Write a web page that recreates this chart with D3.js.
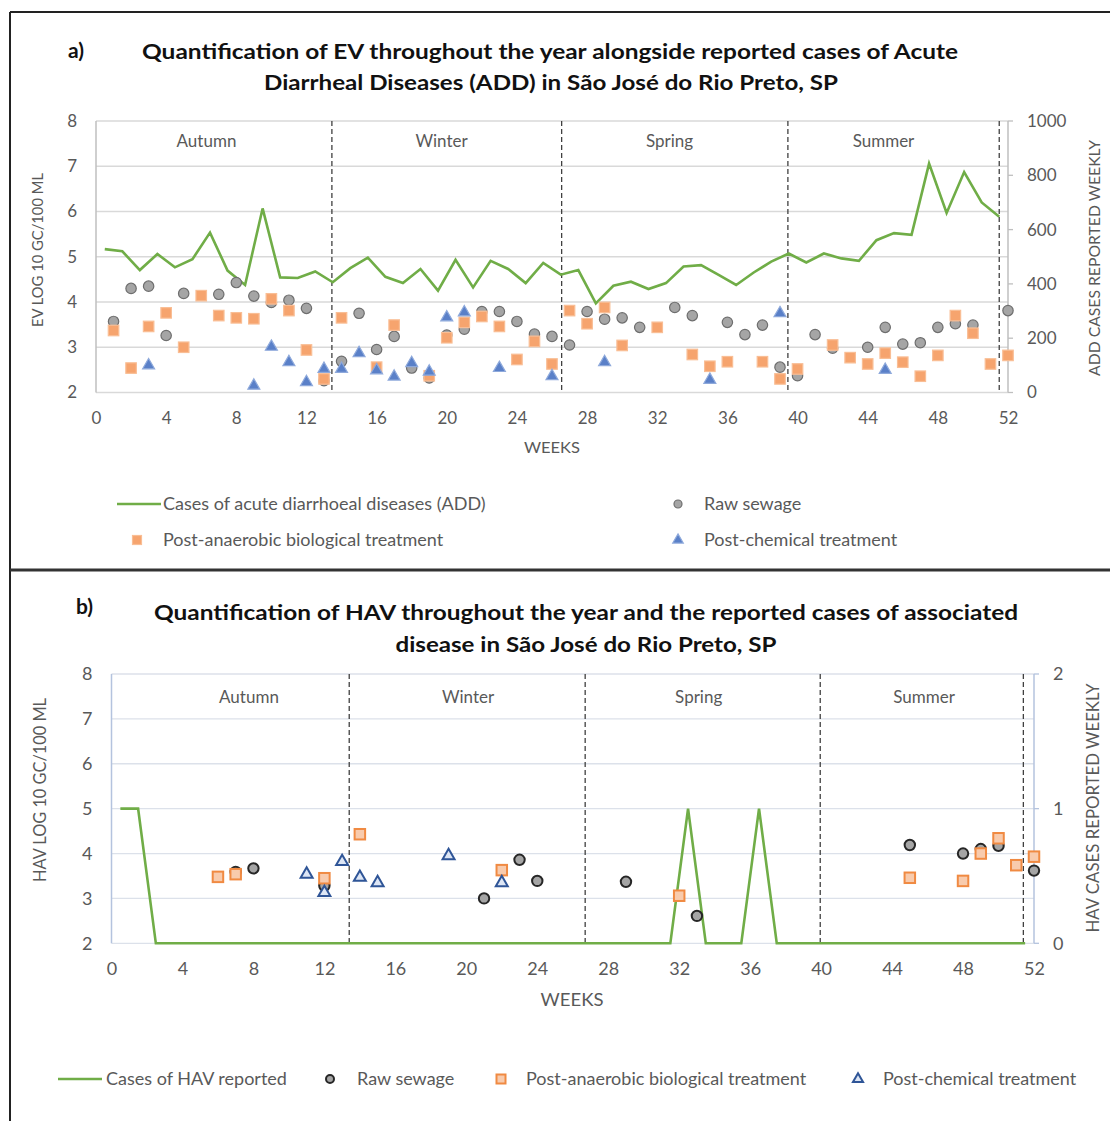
<!DOCTYPE html>
<html>
<head>
<meta charset="utf-8">
<script src="https://cdn.jsdelivr.net/npm/d3@7"></script>
<style>
  body { margin: 0; background: #fff; }
  svg { display: block; }
  text { font-family: Lato, "Open Sans", "DejaVu Sans", sans-serif; fill: #595959; }
</style>
</head>
<body>
<svg id="chart" width="1110" height="1121"></svg>
<script>
// ---- data: panel a (EV) ----
const addCases = [528, 520, 451, 510, 461, 491, 589, 449, 396, 678, 424, 422, 446, 406,
  458, 497, 426, 403, 455, 375, 489, 387, 485, 455, 403, 477, 434,
  451, 328, 393, 408, 381, 403, 464, 469, 433, 396, 442, 482, 512,
  479, 512, 494, 485, 561, 587, 581, 843, 661, 812, 700, 647];

const evRawWeeks = [1, 2, 3, 4, 5, 7, 8, 9, 10, 11, 12, 13, 14, 15, 16, 17, 18, 19, 20, 21, 22, 23, 24, 25, 26,
  27, 28, 29, 30, 31, 33, 34, 36, 37, 38, 39, 40, 41, 42, 44, 45, 46, 47, 48, 49, 50, 52];
const evRawValues = [3.57, 4.30, 4.35, 3.26, 4.19, 4.17, 4.43, 4.13, 3.99, 4.04, 3.86, 2.26, 2.69, 3.75, 2.95, 3.24, 2.54, 2.32, 3.27, 3.40, 3.79, 3.79, 3.57, 3.29, 3.24,
  3.05, 3.79, 3.62, 3.65, 3.44, 3.88, 3.70, 3.55, 3.28, 3.49, 2.56, 2.37, 3.28, 2.98, 3.00, 3.44, 3.07, 3.10, 3.44, 3.52, 3.49, 3.81];

const evAnaWeeks = [1, 2, 3, 4, 5, 6, 7, 8, 9, 10, 11, 12, 13, 14, 16, 17, 19, 20, 21, 22, 23, 24, 25, 26,
  27, 28, 29, 30, 32, 34, 35, 36, 38, 39, 40, 42, 43, 44, 45, 46, 47, 48, 49, 50, 51, 52];
const evAnaValues = [3.37, 2.54, 3.46, 3.76, 3.00, 4.14, 3.70, 3.65, 3.63, 4.07, 3.81, 2.94, 2.30, 3.65, 2.56, 3.49, 2.37, 3.21, 3.55, 3.68, 3.46, 2.73, 3.13, 2.63,
  3.81, 3.52, 3.88, 3.04, 3.44, 2.84, 2.58, 2.68, 2.68, 2.30, 2.52, 3.05, 2.77, 2.63, 2.87, 2.67, 2.36, 2.82, 3.70, 3.31, 2.63, 2.82];

const evChemWeeks = [3, 9, 10, 11, 12, 13, 14, 15, 16, 17, 18, 19, 20, 21, 23, 26, 29, 35, 39, 45];
const evChemValues = [2.60, 2.15, 3.01, 2.67, 2.23, 2.52, 2.52, 2.87, 2.49, 2.35, 2.65, 2.46, 3.66, 3.77, 2.54, 2.36, 2.67, 2.28, 3.75, 2.50];

// ---- data: panel b (HAV) ----
const havCases = [1, 1, 0, 0, 0, 0, 0, 0, 0, 0, 0, 0, 0, 0, 0, 0, 0, 0, 0, 0, 0, 0, 0, 0, 0, 0,
  0, 0, 0, 0, 0, 0, 1, 0, 0, 0, 1, 0, 0, 0, 0, 0, 0, 0, 0, 0, 0, 0, 0, 0, 0, 0];

const havRawWeeks = [7, 8, 12, 21, 23, 24, 29, 33, 45, 48, 49, 50, 52];
const havRawValues = [3.59, 3.67, 3.28, 3.00, 3.86, 3.39, 3.37, 2.61, 4.19, 4.00, 4.10, 4.17, 3.62];

const havAnaWeeks = [6, 7, 12, 14, 22, 32, 45, 48, 49, 50, 51, 52];
const havAnaValues = [3.48, 3.54, 3.45, 4.43, 3.63, 3.06, 3.46, 3.39, 4.00, 4.34, 3.74, 3.93];

const havChemWeeks = [11, 12, 13, 14, 15, 19, 22];
const havChemValues = [3.54, 3.13, 3.82, 3.47, 3.35, 3.95, 3.35];

const seasons = ["Autumn", "Winter", "Spring", "Summer"];
const weekTicks = [0, 4, 8, 12, 16, 20, 24, 28, 32, 36, 40, 44, 48, 52];
const logTicks = [2, 3, 4, 5, 6, 7, 8];

const svg = d3.select("#chart");

// frame
svg.append("line").attr("x1", 10).attr("x2", 1110).attr("y1", 12).attr("y2", 12).attr("stroke", "#222").attr("stroke-width", 2);
svg.append("line").attr("x1", 10).attr("x2", 10).attr("y1", 12).attr("y2", 1121).attr("stroke", "#222").attr("stroke-width", 2);
svg.append("line").attr("x1", 10).attr("x2", 1110).attr("y1", 570).attr("y2", 570).attr("stroke", "#333").attr("stroke-width", 3);

const zip = (w, v) => w.map((d, i) => ({week: d, value: v[i]}));
const fmt = d3.format("d");

function drawPanel(cfg) {
  const g = svg.append("g");
  const x = d3.scaleLinear().domain([0, 52]).range([cfg.left, cfg.right]);
  const y = d3.scaleLinear().domain([2, 8]).range([cfg.bottom, cfg.top]);
  const yR = d3.scaleLinear().domain([0, cfg.rightMax]).range([cfg.bottom, cfg.top]);

  // titles
  g.append("text").attr("x", cfg.tag[0]).attr("y", cfg.tag[1])
    .style("font-weight", "bold").style("font-size", "21px").style("fill", "#111").text(cfg.tagText);
  cfg.title.forEach(t => {
    g.append("text").attr("x", t.x).attr("y", t.y).attr("text-anchor", "middle")
      .attr("textLength", t.w).attr("lengthAdjust", "spacingAndGlyphs")
      .style("font-weight", "bold").style("font-size", "21px").style("fill", "#111").text(t.text);
  });

  // gridlines
  g.selectAll(".grid").data(logTicks).join("line")
    .attr("x1", cfg.left).attr("x2", cfg.right)
    .attr("y1", d => y(d)).attr("y2", d => y(d))
    .attr("stroke", cfg.gridColor).attr("stroke-width", 1.3);

  // axis lines
  g.append("line").attr("x1", cfg.left).attr("x2", cfg.left).attr("y1", cfg.top).attr("y2", cfg.bottom)
    .attr("stroke", cfg.axisColor).attr("stroke-width", 1.5);
  g.append("line").attr("x1", cfg.right).attr("x2", cfg.right).attr("y1", cfg.top).attr("y2", cfg.bottom)
    .attr("stroke", cfg.axisColor).attr("stroke-width", 1.5);
  g.selectAll(".rtick").data(cfg.rightTicks).join("line")
    .attr("x1", cfg.right).attr("x2", cfg.right + 5)
    .attr("y1", d => yR(d)).attr("y2", d => yR(d))
    .attr("stroke", cfg.axisColor).attr("stroke-width", 1.3);

  // axes labels
  const axL = g.append("g").attr("transform", `translate(${cfg.left},0)`)
    .call(d3.axisLeft(y).tickValues(logTicks).tickFormat(fmt).tickSize(0).tickPadding(cfg.pad));
  const axR = g.append("g").attr("transform", `translate(${cfg.right},0)`)
    .call(d3.axisRight(yR).tickValues(cfg.rightTicks).tickFormat(fmt).tickSize(0).tickPadding(cfg.pad));
  const axB = g.append("g").attr("transform", `translate(0,${cfg.bottom})`)
    .call(d3.axisBottom(x).tickValues(weekTicks).tickFormat(fmt).tickSize(0).tickPadding(cfg.pad));
  [axL, axR, axB].forEach(a => {
    a.select(".domain").remove();
    a.selectAll("text").style("font-family", "Lato, sans-serif").style("font-size", cfg.tickFont).style("fill", "#595959");
  });

  // axis titles
  g.append("text").attr("transform", `translate(${cfg.leftTitle[0]},${cfg.leftTitle[1]}) rotate(-90)`)
    .attr("text-anchor", "middle").attr("dy", "0.35em")
    .attr("textLength", cfg.leftTitle[2]).attr("lengthAdjust", "spacingAndGlyphs")
    .style("font-size", cfg.titleFont).text(cfg.leftTitleText);
  g.append("text").attr("transform", `translate(${cfg.rightTitle[0]},${cfg.rightTitle[1]}) rotate(-90)`)
    .attr("text-anchor", "middle").attr("dy", "0.35em")
    .attr("textLength", cfg.rightTitle[2]).attr("lengthAdjust", "spacingAndGlyphs")
    .style("font-size", cfg.titleFont).text(cfg.rightTitleText);
  g.append("text").attr("x", cfg.xTitle[0]).attr("y", cfg.xTitle[1])
    .attr("text-anchor", "middle").attr("dy", "0.35em")
    .attr("textLength", cfg.xTitle[2]).attr("lengthAdjust", "spacingAndGlyphs")
    .style("font-size", cfg.titleFont).text("WEEKS");

  // season breaks + labels
  g.selectAll(".brk").data(cfg.breaks).join("line")
    .attr("x1", d => x(d)).attr("x2", d => x(d))
    .attr("y1", cfg.top).attr("y2", cfg.bottom)
    .attr("stroke", "#404040").attr("stroke-width", 1.3).attr("stroke-dasharray", "5,3");
  g.selectAll(".season").data(seasons).join("text")
    .attr("x", (d, i) => x(cfg.seasonPos[i])).attr("y", cfg.seasonY)
    .attr("text-anchor", "middle").attr("dy", "0.35em")
    .style("font-size", cfg.seasonFont).text(d => d);

  // cases line
  const line = d3.line().x((d, i) => x(i + 0.5)).y(d => yR(d));
  g.append("path").datum(cfg.cases).attr("d", line)
    .attr("fill", "none").attr("stroke", "#70AD47").attr("stroke-width", 2.6).attr("stroke-linejoin", "miter");

  // points
  const ms = cfg.marker;
  g.selectAll(".raw").data(zip(cfg.raw[0], cfg.raw[1])).join("circle")
    .attr("cx", d => x(d.week)).attr("cy", d => y(d.value)).attr("r", ms.r)
    .attr("fill", ms.circleFill).attr("stroke", ms.circleStroke).attr("stroke-width", ms.sw);
  g.selectAll(".ana").data(zip(cfg.ana[0], cfg.ana[1])).join("rect")
    .attr("x", d => x(d.week) - ms.sq / 2).attr("y", d => y(d.value) - ms.sq / 2)
    .attr("width", ms.sq).attr("height", ms.sq)
    .attr("fill", ms.sqFill).attr("stroke", ms.sqStroke).attr("stroke-width", ms.sw);
  const tri = d3.symbol(d3.symbolTriangle, ms.tri);
  g.selectAll(".chem").data(zip(cfg.chem[0], cfg.chem[1])).join("path")
    .attr("d", tri).attr("transform", d => `translate(${x(d.week)},${y(d.value)})`)
    .attr("fill", ms.triFill).attr("stroke", ms.triStroke).attr("stroke-width", ms.sw);

  // legend
  const lg = g.append("g");
  cfg.legend.forEach(item => {
    const [mx, my] = item.m;
    if (item.type === "line") {
      lg.append("line").attr("x1", mx).attr("x2", mx + 44).attr("y1", my).attr("y2", my)
        .attr("stroke", "#70AD47").attr("stroke-width", 2.6);
    } else if (item.type === "circle") {
      lg.append("circle").attr("cx", mx).attr("cy", my).attr("r", ms.lr)
        .attr("fill", ms.circleFill).attr("stroke", ms.circleStroke).attr("stroke-width", ms.sw);
    } else if (item.type === "square") {
      lg.append("rect").attr("x", mx - ms.lsq / 2).attr("y", my - ms.lsq / 2).attr("width", ms.lsq).attr("height", ms.lsq)
        .attr("fill", ms.sqFill).attr("stroke", ms.sqStroke).attr("stroke-width", ms.sw);
    } else {
      lg.append("path").attr("d", d3.symbol(d3.symbolTriangle, ms.ltri)())
        .attr("transform", `translate(${mx},${my})`)
        .attr("fill", ms.triFill).attr("stroke", ms.triStroke).attr("stroke-width", ms.sw);
    }
    lg.append("text").attr("x", item.tx).attr("y", my).attr("dy", "0.35em")
      .style("font-size", "18px").text(item.label);
  });
}

drawPanel({
  left: 96, right: 1008, top: 121, bottom: 392.5,
  rightMax: 1000, rightTicks: [0, 200, 400, 600, 800, 1000],
  gridColor: "#D9D9D9", axisColor: "#BFBFBF",
  pad: 19, tickFont: "17px", titleFont: "15px", seasonFont: "17px",
  tag: [68, 58], tagText: "a)",
  title: [
    {text: "Quantification of EV throughout the year alongside reported cases of Acute", x: 550, y: 59, w: 816},
    {text: "Diarrheal Diseases (ADD) in São José do Rio Preto, SP", x: 551, y: 90, w: 574}
  ],
  leftTitle: [38, 250, 154], leftTitleText: "EV LOG 10 GC/100 ML",
  rightTitle: [1095, 258, 236], rightTitleText: "ADD CASES REPORTED WEEKLY",
  xTitle: [552, 448, 56],
  breaks: [13.45, 26.55, 39.45, 51.5],
  seasonPos: [6.3, 19.7, 32.7, 44.9], seasonY: 141,
  cases: addCases,
  raw: [evRawWeeks, evRawValues], ana: [evAnaWeeks, evAnaValues], chem: [evChemWeeks, evChemValues],
  marker: {r: 5.2, sq: 10.5, tri: 62, sw: 1.2, lr: 4, lsq: 9, ltri: 48,
    circleFill: "#A5A5A5", circleStroke: "#6E6E6E",
    sqFill: "#F6A46E", sqStroke: "#F9BE95",
    triFill: "#5A80C8", triStroke: "#8EA9DB"},
  legend: [
    {type: "line", m: [117, 504], tx: 163, label: "Cases of acute diarrhoeal diseases (ADD)"},
    {type: "circle", m: [678, 504], tx: 704, label: "Raw sewage"},
    {type: "square", m: [137, 540], tx: 163, label: "Post-anaerobic biological treatment"},
    {type: "triangle", m: [678, 540], tx: 704, label: "Post-chemical treatment"}
  ]
});

drawPanel({
  left: 111.5, right: 1034, top: 674, bottom: 943.3,
  rightMax: 2, rightTicks: [0, 1, 2],
  gridColor: "#DCE1EA", axisColor: "#B4C3DE",
  pad: 19, tickFont: "18px", titleFont: "17px", seasonFont: "17px",
  tag: [76, 614], tagText: "b)",
  title: [
    {text: "Quantification of HAV throughout the year and the reported cases of associated", x: 586, y: 620, w: 864},
    {text: "disease in São José do Rio Preto, SP", x: 586, y: 652, w: 381}
  ],
  leftTitle: [40, 790, 184], leftTitleText: "HAV LOG 10 GC/100 ML",
  rightTitle: [1093, 808, 249], rightTitleText: "HAV CASES REPORTED WEEKLY",
  xTitle: [572, 1000, 63],
  breaks: [13.4, 26.7, 39.95, 51.4],
  seasonPos: [7.75, 20.1, 33.1, 45.8], seasonY: 697,
  cases: havCases,
  raw: [havRawWeeks, havRawValues], ana: [havAnaWeeks, havAnaValues], chem: [havChemWeeks, havChemValues],
  marker: {r: 5.2, sq: 10.5, tri: 62, sw: 2, lr: 4, lsq: 9, ltri: 44,
    circleFill: "#A5A5A5", circleStroke: "#262626",
    sqFill: "#F8CBAD", sqStroke: "#F08A42",
    triFill: "#DDE6F5", triStroke: "#2F5597"},
  legend: [
    {type: "line", m: [58, 1079], tx: 106, label: "Cases of HAV reported"},
    {type: "circle", m: [330, 1079], tx: 357, label: "Raw sewage"},
    {type: "square", m: [501, 1079], tx: 526, label: "Post-anaerobic biological treatment"},
    {type: "triangle", m: [858, 1079], tx: 883, label: "Post-chemical treatment"}
  ]
});
</script>
</body>
</html>
